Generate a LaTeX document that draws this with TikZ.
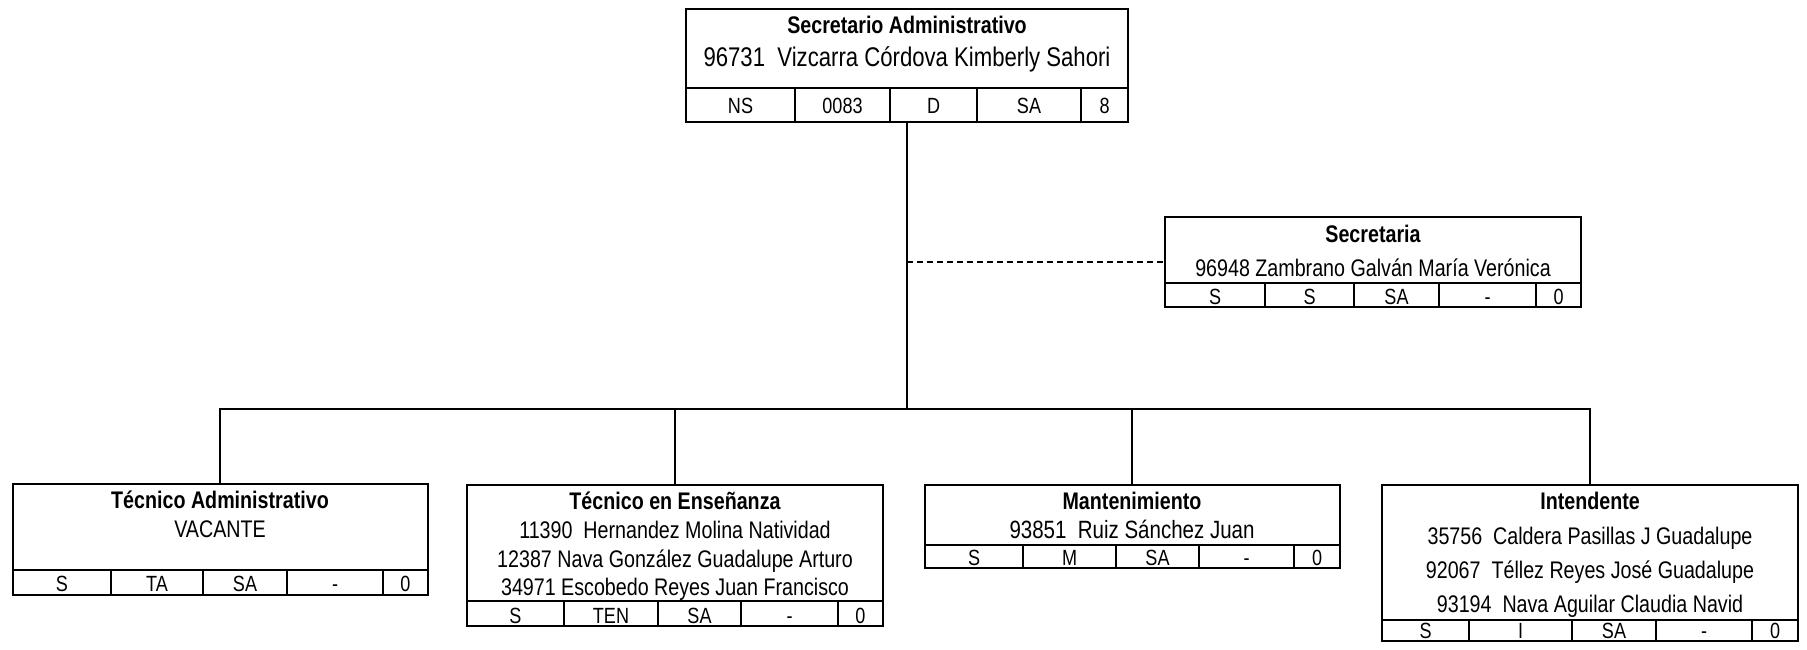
\documentclass[tikz,border=0pt]{standalone}
\usepackage{fontspec}
\setmainfont{Liberation Sans}[FakeStretch=0.82]

\begin{document}
\begin{tikzpicture}[x=0.5pt,y=-0.5pt,
  frame/.style={line width=1.2pt},
  rule/.style={line width=0.8pt},
  link/.style={line width=0.65pt},
  title/.style={anchor=base,inner sep=0pt,font=\bfseries\fontsize{12}{14}\selectfont},
  txt/.style={anchor=base,inner sep=0pt,font=\fontsize{12}{14}\selectfont},
  cell/.style={anchor=base,inner sep=0pt,font=\fontsize{11}{13}\selectfont}]

\useasboundingbox (0,0) rectangle (1807,649);

\begin{scope}
\coordinate (sa-nw) at (686,9);
\coordinate (sa-se) at (1128,122);
\coordinate (sa-s) at (907,122);
\draw[rule] (686,88) -- (1128,88);
\foreach \x in {795,890,977,1081} \draw[rule] (\x,88) -- (\x,122);
\draw[frame] (sa-nw) rectangle (sa-se);
\node[title] (sa-t) at (907,33) {Secretario Administrativo};
\node[txt,font=\fontsize{13.5}{16}\selectfont] (sa-n) at (907,66) {96731\ \ Vizcarra Córdova Kimberly Sahori};
\foreach \a/\b/\t [count=\i] in {686/795/NS,795/890/0083,890/977/D,977/1081/SA,1081/1128/8}
  \node[cell] (sa-c\i) at ({(\a+\b)/2},113) {\t};
\end{scope}

\begin{scope}
\coordinate (sec-nw) at (1165,217);
\coordinate (sec-se) at (1581,307);
\coordinate (sec-w) at (1165,262);
\draw[rule] (1165,283) -- (1581,283);
\foreach \x in {1265,1354,1439,1536} \draw[rule] (\x,283) -- (\x,307);
\draw[frame] (sec-nw) rectangle (sec-se);
\node[title] (sec-t) at (1373,242) {Secretaria};
\node[txt] (sec-n) at (1373,276) {96948 Zambrano Galván María Verónica};
\foreach \a/\b/\t [count=\i] in {1165/1265/S,1265/1354/S,1354/1439/SA,1439/1536/-,1536/1581/0}
  \node[cell] (sec-c\i) at ({(\a+\b)/2},304) {\t};
\end{scope}

\begin{scope}
\coordinate (ta-nw) at (13,484);
\coordinate (ta-se) at (428,595);
\coordinate (ta-n) at (220,484);
\draw[rule] (13,570) -- (428,570);
\foreach \x in {111,203,287,383} \draw[rule] (\x,570) -- (\x,595);
\draw[frame] (ta-nw) rectangle (ta-se);
\node[title] (ta-t) at (220,508) {Técnico Administrativo};
\node[txt] (ta-n1) at (220,537) {VACANTE};
\foreach \a/\b/\t [count=\i] in {13/111/S,111/203/TA,203/287/SA,287/383/-,383/428/0}
  \node[cell] (ta-c\i) at ({(\a+\b)/2},591) {\t};
\end{scope}

\begin{scope}
\coordinate (te-nw) at (467,485);
\coordinate (te-se) at (883,626);
\coordinate (te-n) at (675,485);
\draw[rule] (467,601) -- (883,601);
\foreach \x in {564,658,741,838} \draw[rule] (\x,601) -- (\x,626);
\draw[frame] (te-nw) rectangle (te-se);
\node[title] (te-t) at (675,509) {Técnico en Enseñanza};
\node[txt] (te-n1) at (675,538) {11390\ \ Hernandez Molina Natividad};
\node[txt] (te-n2) at (675,567) {12387 Nava González Guadalupe Arturo};
\node[txt] (te-n3) at (675,595) {34971 Escobedo Reyes Juan Francisco};
\foreach \a/\b/\t [count=\i] in {467/564/S,564/658/TEN,658/741/SA,741/838/-,838/883/0}
  \node[cell] (te-c\i) at ({(\a+\b)/2},623) {\t};
\end{scope}

\begin{scope}
\coordinate (mt-nw) at (925,485);
\coordinate (mt-se) at (1340,568);
\coordinate (mt-n) at (1132,485);
\draw[rule] (925,545) -- (1340,545);
\foreach \x in {1023,1116,1199,1294} \draw[rule] (\x,545) -- (\x,568);
\draw[frame] (mt-nw) rectangle (mt-se);
\node[title] (mt-t) at (1132,509) {Mantenimiento};
\node[txt,font=\fontsize{12.5}{15}\selectfont] (mt-n1) at (1132,538) {93851\ \ Ruiz Sánchez Juan};
\foreach \a/\b/\t [count=\i] in {925/1023/S,1023/1116/M,1116/1199/SA,1199/1294/-,1294/1340/0}
  \node[cell] (mt-c\i) at ({(\a+\b)/2},565) {\t};
\end{scope}

\begin{scope}
\coordinate (in-nw) at (1382,485);
\coordinate (in-se) at (1798,641);
\coordinate (in-n) at (1590,485);
\draw[rule] (1382,620) -- (1798,620);
\foreach \x in {1469,1572,1656,1752} \draw[rule] (\x,620) -- (\x,641);
\draw[frame] (in-nw) rectangle (in-se);
\node[title] (in-t) at (1590,509) {Intendente};
\node[txt] (in-n1) at (1590,544) {35756\ \ Caldera Pasillas J Guadalupe};
\node[txt] (in-n2) at (1590,578) {92067\ \ Téllez Reyes José Guadalupe};
\node[txt] (in-n3) at (1590,612) {93194\ \ Nava Aguilar Claudia Navid};
\foreach \a/\b/\t [count=\i] in {1382/1469/S,1469/1572/I,1572/1656/SA,1656/1752/-,1752/1798/0}
  \node[cell] (in-c\i) at ({(\a+\b)/2},638) {\t};
\end{scope}

\coordinate (bus) at (907,409);
\coordinate (tap) at (907,262);
\draw[link] (sa-s) -- (bus);
\draw[link,dash pattern=on 3pt off 2pt] (tap) -- (sec-w);
\draw[link] (ta-n) -- (ta-n |- bus) -- (in-n |- bus) -- (in-n);
\draw[link] (te-n) -- (te-n |- bus);
\draw[link] (mt-n) -- (mt-n |- bus);

\end{tikzpicture}
\end{document}
